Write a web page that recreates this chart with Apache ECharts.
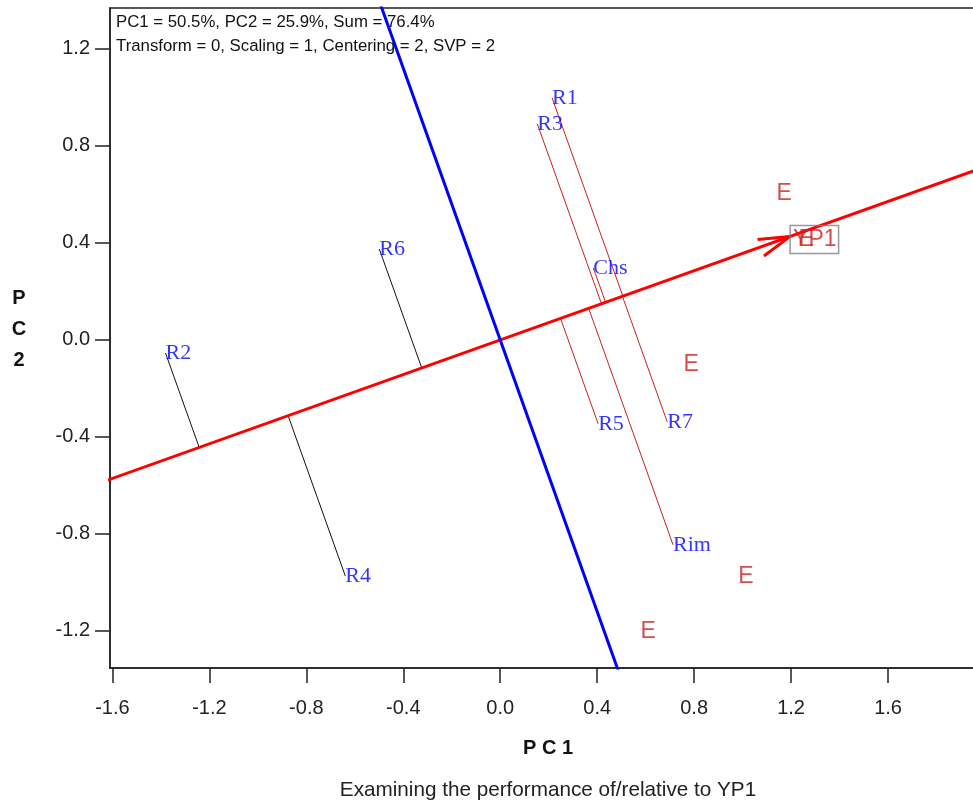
<!DOCTYPE html>
<html>
<head>
<meta charset="utf-8">
<script src="https://cdn.jsdelivr.net/npm/echarts@6/dist/echarts.min.js"></script>
<style>
html,body{margin:0;padding:0;background:#fff;overflow:hidden;}
#chart{width:995px;height:805px;}
</style>
</head>
<body>
<div id="chart"></div>
<script>
// ---- data ----
const genotypeNames = ['R1', 'R3', 'Chs', 'R6', 'R2', 'R4', 'R5', 'R7', 'Rim'];
const genotypePC1 = [0.214, 0.153, 0.384, -0.499, -1.381, -0.639, 0.404, 0.689, 0.713];
const genotypePC2 = [0.998, 0.891, 0.297, 0.375, -0.054, -0.974, -0.346, -0.338, -0.845];

const testerNames = ['E', 'E', 'E', 'E', 'E'];
const testerPC1 = [1.171, 0.788, 1.014, 0.610, 1.262];
const testerPC2 = [0.602, -0.103, -0.977, -1.204, 0.412];

const focalName = 'YP1';
const focalPC1 = 1.196;
const focalPC2 = 0.427;

const xTicks = [-1.6, -1.2, -0.8, -0.4, 0.0, 0.4, 0.8, 1.2, 1.6];
const yTicks = [-1.2, -0.8, -0.4, 0.0, 0.4, 0.8, 1.2];

const infoLines = ['PC1 = 50.5%, PC2 = 25.9%, Sum = 76.4%',
                   'Transform = 0, Scaling = 1, Centering = 2, SVP = 2'];
const xName = 'P C 1';
const yName = 'P\nC\n2';
const caption = 'Examining the performance of/relative to YP1';

// ---- derived geometry ----
const len = Math.hypot(focalPC1, focalPC2);
const ux = focalPC1 / len, uy = focalPC2 / len;
const far = 10;
const atcLine = [[-far * ux, -far * uy], [far * ux, far * uy]];
const perpLine = [[far * uy, -far * ux], [-far * uy, far * ux]];

const projLines = genotypeNames.map((n, i) => {
  const x = genotypePC1[i], y = genotypePC2[i];
  const d = x * ux + y * uy;
  return {
    coords: [[x, y], [d * ux, d * uy]],
    lineStyle: { color: d >= 0 ? '#cc2020' : '#111111' }
  };
});

// arrow barbs at the focal tester
const barbLen = 0.135;
const baseAng = Math.atan2(-uy, -ux);
const barbs = [-0.25, 0.30].map(a => ({
  coords: [[focalPC1, focalPC2],
           [focalPC1 + barbLen * Math.cos(baseAng + a), focalPC2 + barbLen * Math.sin(baseAng + a)]]
}));

const chart = echarts.init(document.getElementById('chart'));
const tickFont = { fontFamily: 'Liberation Sans, Arial, sans-serif', fontSize: 20, color: '#222' };

chart.setOption({
  animation: false,
  backgroundColor: '#fff',
  grid: { left: 110, top: 8, width: 875, height: 660, show: true, borderColor: '#222', borderWidth: 1.5,
          containLabel: false, outerBoundsMode: 'none' },
  xAxis: {
    type: 'value', min: -1.61, max: 2.0,
    axisLine: { show: true, onZero: false, lineStyle: { color: '#222', width: 1.5 } },
    axisTick: { show: true, length: 15, customValues: xTicks, lineStyle: { color: '#222', width: 1.5 } },
    axisLabel: Object.assign({ margin: 30, customValues: xTicks, formatter: v => v.toFixed(1) }, tickFont),
    splitLine: { show: false }
  },
  yAxis: {
    type: 'value', min: -1.353, max: 1.369,
    axisLine: { show: true, onZero: false, lineStyle: { color: '#222', width: 1.5 } },
    axisTick: { show: true, length: 15, customValues: yTicks, lineStyle: { color: '#222', width: 1.5 } },
    axisLabel: Object.assign({ margin: 20, customValues: yTicks, formatter: v => v.toFixed(1) }, tickFont),
    splitLine: { show: false }
  },
  series: [
    {
      type: 'lines', coordinateSystem: 'cartesian2d', silent: true, z: 2,
      lineStyle: { width: 1, opacity: 1 },
      data: projLines
    },
    {
      type: 'line', data: atcLine, showSymbol: false, clip: true, z: 3,
      lineStyle: { color: '#ff0000', width: 3 }
    },
    {
      type: 'line', data: perpLine, showSymbol: false, clip: true, z: 3,
      lineStyle: { color: '#0000ff', width: 3 }
    },
    {
      type: 'lines', coordinateSystem: 'cartesian2d', silent: true, z: 4,
      lineStyle: { color: '#ff0000', width: 3, opacity: 1 },
      data: barbs
    },
    {
      type: 'scatter', symbolSize: 0, z: 5,
      data: genotypeNames.map((n, i) => ({ name: n, value: [genotypePC1[i], genotypePC2[i]] })),
      label: {
        show: true, position: 'right', distance: 0, formatter: p => p.name,
        color: '#0000ff', fontFamily: 'Liberation Serif, Times New Roman, serif', fontSize: 22
      }
    },
    {
      type: 'scatter', symbolSize: 0, z: 5,
      data: testerNames.map((n, i) => ({ name: n, value: [testerPC1[i], testerPC2[i]] })),
      label: {
        show: true, position: 'inside', formatter: p => p.name,
        color: '#cc1f1f', fontFamily: 'Liberation Sans, Arial, sans-serif', fontSize: 23
      }
    },
    {
      type: 'scatter', symbolSize: 0, z: 6,
      data: [{ name: focalName, value: [focalPC1, focalPC2] }],
      label: {
        show: true, position: 'right', distance: 0, offset: [0, 3], formatter: p => p.name,
        color: '#cc1f1f', fontFamily: 'Liberation Sans, Arial, sans-serif', fontSize: 23,
        borderColor: '#808080', borderWidth: 1.5, padding: [3, 2, 2, 3]
      }
    }
  ],
  graphic: [
    {
      type: 'text', left: 116, top: 10, z: 10,
      style: { text: infoLines.join('\n'), font: '16.8px Liberation Sans, Arial, sans-serif', lineHeight: 24, fill: '#111' }
    },
    {
      type: 'text', x: 548, y: 748, z: 10,
      style: { text: xName, font: 'bold 20px Liberation Sans, Arial, sans-serif', fill: '#111', align: 'center', verticalAlign: 'middle' }
    },
    {
      type: 'text', x: 19, y: 329, z: 10,
      style: { text: yName, font: 'bold 20px Liberation Sans, Arial, sans-serif', fill: '#111', align: 'center', verticalAlign: 'middle', lineHeight: 31 }
    },
    {
      type: 'text', x: 548, y: 790, z: 10,
      style: { text: caption, font: '20.7px Liberation Sans, Arial, sans-serif', fill: '#222', align: 'center', verticalAlign: 'middle' }
    }
  ]
});
</script>
</body>
</html>
